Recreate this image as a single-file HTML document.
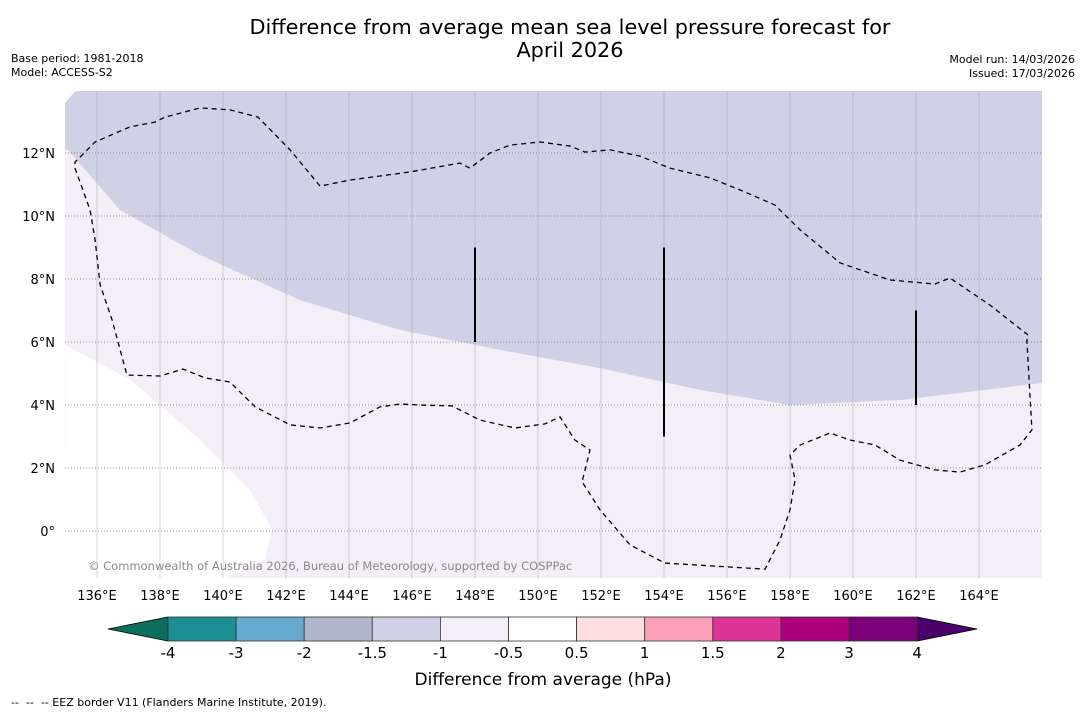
<!DOCTYPE html>
<html><head><meta charset="utf-8"><style>
body{margin:0;background:#fff;}
svg text{font-family:"DejaVu Sans","Liberation Sans",sans-serif;}
</style></head><body>
<svg id="c" width="1085" height="713" viewBox="0 0 1085 713" xmlns="http://www.w3.org/2000/svg">
<text x="570" y="34" font-size="20.8" text-anchor="middle">Difference from average mean sea level pressure forecast for</text>
<text x="570" y="57" font-size="20.8" text-anchor="middle">April 2026</text>
<text x="11" y="62" font-size="11">Base period: 1981-2018</text>
<text x="11" y="76" font-size="11">Model: ACCESS-S2</text>
<text x="1075" y="63" font-size="11" text-anchor="end">Model run: 14/03/2026</text>
<text x="1075" y="77" font-size="11" text-anchor="end">Issued: 17/03/2026</text>
<g id="map"></g>
<g id="cbar"></g>
<text x="543" y="685" font-size="17" text-anchor="middle">Difference from average (hPa)</text>
<text x="11" y="706" font-size="11" xml:space="preserve" style="white-space:pre">--  --  -- EEZ border V11 (Flanders Marine Institute, 2019).</text>
</svg>
<script>
const lonTicks=[136,138,140,142,144,146,148,150,152,154,156,158,160,162,164];
const latTicks=[0,2,4,6,8,10,12];
const blueLon=[135.08,136.73,139.27,142.44,145.62,148.79,151.97,155.14,158,161.5,166];
const blueLat=[12.1,10.19,8.76,7.33,6.38,5.75,5.17,4.48,4.0,4.16,4.7];
const whiteLon=[135,137.05,139.27,140.86,141.56,141.33,140.06];
const whiteLat=[5.9,4.8,2.9,1.3,0.03,-0.92,-1.5];
const eezLon=[135.30,135.78,135.94,136.10,136.48,136.95,138.00,138.73,139.43,140.22,141.02,142.13,143.08,144.03,144.98,145.62,146.25,147.27,148.16,149.27,150.22,150.70,151.17,151.65,151.40,151.97,152.92,154.03,157.21,157.68,158.00,158.16,158.00,158.32,159.27,159.90,160.70,161.49,162.60,163.40,164.19,165.30,165.68,165.52,165.56,164.35,163.08,162.60,161.17,159.59,158.32,157.52,156.41,155.46,154.19,153.24,152.29,151.49,151.02,150.06,149.11,148.48,147.84,147.52,145.94,144.03,143.08,142.13,141.11,140.22,139.27,138.16,137.84,137.05,135.94,135.30];
const eezLat=[11.52,10.19,9.24,7.81,6.70,4.95,4.92,5.14,4.86,4.73,3.94,3.37,3.27,3.43,3.94,4.03,4.00,3.97,3.52,3.27,3.40,3.62,2.89,2.57,1.56,0.67,-0.44,-1.02,-1.21,-0.29,0.67,1.62,2.41,2.73,3.11,2.89,2.73,2.25,1.94,1.87,2.10,2.73,3.21,6.06,6.22,7.17,8.03,7.84,7.97,8.51,9.56,10.35,10.83,11.21,11.52,11.90,12.10,12.03,12.22,12.35,12.25,12.00,11.52,11.68,11.40,11.14,10.95,12.10,13.14,13.37,13.43,13.14,12.98,12.83,12.35,11.71];
const barLon=[148,154,162];
const barLat0=[6,3,4];
const barLat1=[9,9,7];
const cbLevels=["-4","-3","-2","-1.5","-1","-0.5","0.5","1","1.5","2","3","4"];
const cbColors=["#1b8f93","#67a9cf","#b0b6cc","#d0d1e6","#f4eef6","#ffffff","#fde0dd","#fa9fb5","#dd3497","#ae017e","#7a0177"];
const NS="http://www.w3.org/2000/svg";
const X0=65,X1=1042,Y0=91,Y1=578;
const xs=lon=>97+(lon-136)*31.5;
const ys=lat=>531-lat*31.5;
function mk(t,a,p){const e=document.createElementNS(NS,t);for(const k in a)e.setAttribute(k,a[k]);p.appendChild(e);return e;}
const map=document.getElementById('map');
const defs=mk('defs',{},map);
const cp=mk('clipPath',{id:'clip'},defs);mk('rect',{x:X0,y:Y0,width:X1-X0,height:Y1-Y0},cp);
const g=mk('g',{'clip-path':'url(#clip)'},map);
const bg=mk('rect',{x:X0,y:Y0,width:X1-X0,height:Y1-Y0,fill:'#f4eef6'},g);


let d='M'+X0+','+(Y0+12)+' L'+(X0+10)+','+Y0;
blueLon.forEach((l,i)=>{d+=' L'+xs(l)+','+ys(blueLat[i]);});
d='M'+X0+','+(Y0+12)+' L'+(X0+10)+','+Y0+' L'+X1+','+Y0;
for(let i=blueLon.length-1;i>=0;i--){d+=' L'+xs(blueLon[i])+','+ys(blueLat[i]);}
d+=' L'+X0+','+ys(blueLat[0])+' Z';
const bp=mk('path',{d:d,fill:'#d0d1e6'},g);


const tc=mk('polygon',{points:`${X0},${Y0} ${X0+10},${Y0} ${X0},${Y0+12}`,fill:'#ffffff'},g);


d='M'+X0+','+Y1;
whiteLon.forEach((l,i)=>{d+=' L'+xs(l)+','+ys(whiteLat[i]);});
d+=' Z';
const wp=mk('path',{d:d,fill:'#ffffff'},g);


lonTicks.forEach(l=>{const ln=mk('line',{x1:xs(l),x2:xs(l),y1:Y0,y2:Y1,stroke:'#999',"stroke-width":0.6,opacity:0.7},g);

});
latTicks.forEach(l=>{const ln=mk('line',{x1:X0,x2:X1,y1:ys(l),y2:ys(l),stroke:'#777',"stroke-width":0.7,"stroke-dasharray":"1,2"},g);

});
d='';
eezLon.forEach((l,i)=>{d+=(i?' L':'M')+xs(l)+','+ys(eezLat[i]);});
const ep=mk('path',{d:d+' Z',fill:'none',stroke:'#000',"stroke-width":1.3,"stroke-dasharray":"5,4"},g);


barLon.forEach((l,i)=>{const ln=mk('line',{x1:xs(l),x2:xs(l),y1:ys(barLat0[i]),y2:ys(barLat1[i]),stroke:'#000',"stroke-width":2},g);

});
const ct=mk('text',{x:88,y:570,"font-size":11.5,fill:'#888'},g);
ct.textContent='© Commonwealth of Australia 2026, Bureau of Meteorology, supported by COSPPac';


lonTicks.forEach(l=>{const t=mk('text',{x:xs(l),y:600,"font-size":13,"text-anchor":"middle"},map);t.textContent=l+'°E';

});
latTicks.forEach(l=>{const t=mk('text',{x:55,y:ys(l)+5,"font-size":13,"text-anchor":"end"},map);t.textContent=l===0?'0°':l+'°N';

});
const cb=document.getElementById('cbar');
const bx0=168,bw=68.1,by=617,bh=24;
const lt=mk('polygon',{points:`108,${by+bh/2} ${bx0},${by} ${bx0},${by+bh}`,fill:'#0b6e5e',stroke:'#000',"stroke-width":0.8},cb);


const xe=bx0+bw*cbColors.length;
const rt=mk('polygon',{points:`${xe+60},${by+bh/2} ${xe},${by} ${xe},${by+bh}`,fill:'#49006a',stroke:'#000',"stroke-width":0.8},cb);


cbColors.forEach((c,i)=>{const r=mk('rect',{x:bx0+i*bw,y:by,width:bw,height:bh,fill:c,stroke:'#333',"stroke-width":0.8},cb);

});
cbLevels.forEach((v,i)=>{const t=mk('text',{x:bx0+i*bw,y:658,"font-size":15,"text-anchor":"middle"},cb);t.textContent=v;

});
</script>
</body></html>
